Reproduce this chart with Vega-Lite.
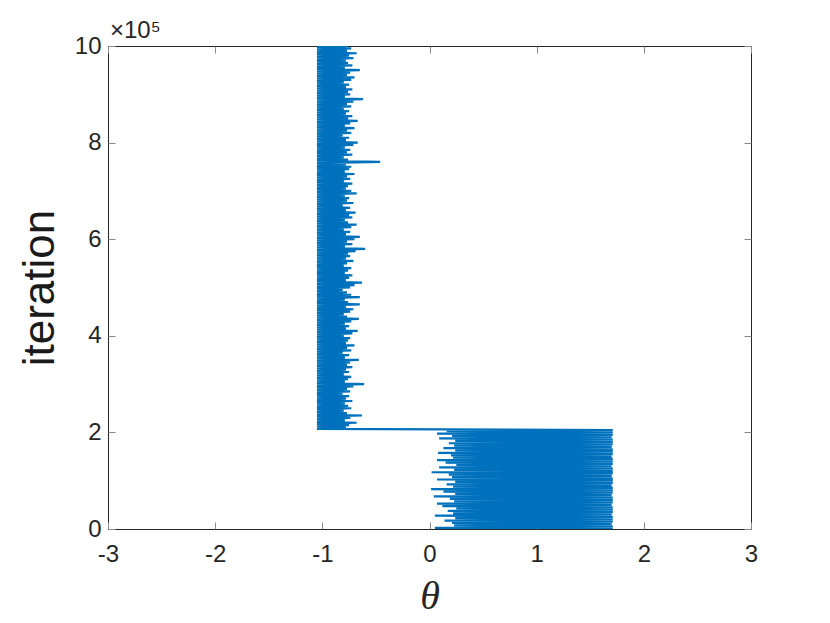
{
"$schema": "https://vega.github.io/schema/vega-lite/v6.json",
"width": 643, "height": 483,
"autosize": {"type": "none"},
"padding": {"left": 108, "top": 46, "right": 79, "bottom": 94},
"background": "white",
"config": {"view": {"stroke": "#262626", "strokeWidth": 1}},
"title": {"text": "×10⁵", "anchor": "start", "frame": "group", "offset": -9, "dx": 2, "fontSize": 24, "font": "Liberation Sans", "fontWeight": "normal", "color": "#262626"},
"datasets": {"trace": [
{"i":0,"t":1.71},{"i":2500,"t":0.05},{"i":5000,"t":1.71},{"i":7500,"t":0.23},{"i":10000,"t":1.7},{"i":12500,"t":0.21},{"i":15000,"t":1.71},{"i":17500,"t":0.14},{"i":20000,"t":1.71},{"i":22500,"t":0.24},{"i":25000,"t":1.71},{"i":27500,"t":0.05},{"i":30000,"t":1.7},{"i":32500,"t":0.22},{"i":35000,"t":1.71},{"i":37500,"t":0.17},{"i":40000,"t":1.71},{"i":42500,"t":0.25},{"i":45000,"t":1.71},{"i":47500,"t":0.12},{"i":50000,"t":1.7},{"i":52500,"t":0.07},{"i":55000,"t":1.71},{"i":57500,"t":0.23},{"i":60000,"t":1.71},{"i":62500,"t":0.19},{"i":65000,"t":1.71},{"i":67500,"t":0.04},{"i":70000,"t":1.7},{"i":72500,"t":0.24},{"i":75000,"t":1.71},{"i":77500,"t":0.13},{"i":80000,"t":1.71},{"i":82500,"t":0.015},{"i":85000,"t":1.71},{"i":87500,"t":0.22},{"i":90000,"t":1.7},{"i":92500,"t":0.16},{"i":95000,"t":1.71},{"i":97500,"t":0.24},{"i":100000,"t":1.71},{"i":102500,"t":0.07},{"i":105000,"t":1.71},{"i":107500,"t":0.21},{"i":110000,"t":1.7},{"i":112500,"t":0.18},{"i":115000,"t":1.71},{"i":117500,"t":0.02},{"i":120000,"t":1.71},{"i":122500,"t":0.23},{"i":125000,"t":1.71},{"i":127500,"t":0.09},{"i":130000,"t":1.7},{"i":132500,"t":0.25},{"i":135000,"t":1.71},{"i":137500,"t":0.15},{"i":140000,"t":1.71},{"i":142500,"t":0.07},{"i":145000,"t":1.71},{"i":147500,"t":0.22},{"i":150000,"t":1.7},{"i":152500,"t":0.2},{"i":155000,"t":1.71},{"i":157500,"t":0.08},{"i":160000,"t":1.71},{"i":162500,"t":0.24},{"i":165000,"t":1.71},{"i":167500,"t":0.13},{"i":170000,"t":1.7},{"i":172500,"t":0.23},{"i":175000,"t":1.71},{"i":177500,"t":0.18},{"i":180000,"t":1.71},{"i":182500,"t":0.24},{"i":185000,"t":1.71},{"i":187500,"t":0.09},{"i":190000,"t":1.7},{"i":192500,"t":0.21},{"i":195000,"t":1.71},{"i":197500,"t":0.07},{"i":200000,"t":1.71},{"i":202500,"t":0.16},{"i":205000,"t":1.71},
{"i":207500,"t":-1.05},{"i":210000,"t":-0.78},{"i":212500,"t":-1.05},{"i":215000,"t":-0.75},{"i":217500,"t":-1.05},{"i":220000,"t":-0.68},{"i":222500,"t":-1.05},{"i":225000,"t":-0.79},{"i":227500,"t":-1.05},{"i":230000,"t":-0.74},{"i":232500,"t":-1.05},{"i":235000,"t":-0.63},{"i":237500,"t":-1.05},{"i":240000,"t":-0.77},{"i":242500,"t":-1.05},{"i":245000,"t":-0.8},{"i":247500,"t":-1.05},{"i":250000,"t":-0.73},{"i":252500,"t":-1.05},{"i":255000,"t":-0.76},{"i":257500,"t":-1.05},{"i":260000,"t":-0.79},{"i":262500,"t":-1.05},{"i":265000,"t":-0.72},{"i":267500,"t":-1.05},{"i":270000,"t":-0.78},{"i":272500,"t":-1.05},{"i":275000,"t":-0.75},{"i":277500,"t":-1.05},{"i":280000,"t":-0.81},{"i":282500,"t":-1.05},{"i":285000,"t":-0.74},{"i":287500,"t":-1.05},{"i":290000,"t":-0.77},{"i":292500,"t":-1.05},{"i":295000,"t":-0.71},{"i":297500,"t":-1.05},{"i":300000,"t":-0.61},{"i":302500,"t":-1.05},{"i":305000,"t":-0.79},{"i":307500,"t":-1.05},{"i":310000,"t":-0.76},{"i":312500,"t":-1.05},{"i":315000,"t":-0.73},{"i":317500,"t":-1.05},{"i":320000,"t":-0.8},{"i":322500,"t":-1.05},{"i":325000,"t":-0.75},{"i":327500,"t":-1.05},{"i":330000,"t":-0.78},{"i":332500,"t":-1.05},{"i":335000,"t":-0.72},{"i":337500,"t":-1.05},{"i":340000,"t":-0.77},{"i":342500,"t":-1.05},{"i":345000,"t":-0.74},{"i":347500,"t":-1.05},{"i":350000,"t":-0.66},{"i":352500,"t":-1.05},{"i":355000,"t":-0.79},{"i":357500,"t":-1.05},{"i":360000,"t":-0.75},{"i":362500,"t":-1.05},{"i":365000,"t":-0.81},{"i":367500,"t":-1.05},{"i":370000,"t":-0.73},{"i":372500,"t":-1.05},{"i":375000,"t":-0.77},{"i":377500,"t":-1.05},{"i":380000,"t":-0.7},{"i":382500,"t":-1.05},{"i":385000,"t":-0.78},{"i":387500,"t":-1.05},{"i":390000,"t":-0.76},{"i":392500,"t":-1.05},{"i":395000,"t":-0.74},{"i":397500,"t":-1.05},{"i":400000,"t":-0.8},{"i":402500,"t":-1.05},{"i":405000,"t":-0.72},{"i":407500,"t":-1.05},{"i":410000,"t":-0.67},{"i":412500,"t":-1.05},{"i":415000,"t":-0.78},{"i":417500,"t":-1.05},{"i":420000,"t":-0.75},{"i":422500,"t":-1.05},{"i":425000,"t":-0.79},{"i":427500,"t":-1.05},{"i":430000,"t":-0.73},{"i":432500,"t":-1.05},{"i":435000,"t":-0.66},{"i":437500,"t":-1.05},{"i":440000,"t":-0.77},{"i":442500,"t":-1.05},{"i":445000,"t":-0.8},{"i":447500,"t":-1.05},{"i":450000,"t":-0.74},{"i":452500,"t":-1.05},{"i":455000,"t":-0.71},{"i":457500,"t":-1.05},{"i":460000,"t":-0.78},{"i":462500,"t":-1.05},{"i":465000,"t":-0.65},{"i":467500,"t":-1.05},{"i":470000,"t":-0.76},{"i":472500,"t":-1.05},{"i":475000,"t":-0.79},{"i":477500,"t":-1.05},{"i":480000,"t":-0.65},{"i":482500,"t":-1.05},{"i":485000,"t":-0.73},{"i":487500,"t":-1.05},{"i":490000,"t":-0.77},{"i":492500,"t":-1.05},{"i":495000,"t":-0.81},{"i":497500,"t":-1.05},{"i":500000,"t":-0.74},{"i":502500,"t":-1.05},{"i":505000,"t":-0.7},{"i":507500,"t":-1.05},{"i":510000,"t":-0.63},{"i":512500,"t":-1.05},{"i":515000,"t":-0.78},{"i":517500,"t":-1.05},{"i":520000,"t":-0.75},{"i":522500,"t":-1.05},{"i":525000,"t":-0.72},{"i":527500,"t":-1.05},{"i":530000,"t":-0.79},{"i":532500,"t":-1.05},{"i":535000,"t":-0.76},{"i":537500,"t":-1.05},{"i":540000,"t":-0.73},{"i":542500,"t":-1.05},{"i":545000,"t":-0.8},{"i":547500,"t":-1.05},{"i":550000,"t":-0.77},{"i":552500,"t":-1.05},{"i":555000,"t":-0.71},{"i":557500,"t":-1.05},{"i":560000,"t":-0.78},{"i":562500,"t":-1.05},{"i":565000,"t":-0.74},{"i":567500,"t":-1.05},{"i":570000,"t":-0.76},{"i":572500,"t":-1.05},{"i":575000,"t":-0.69},{"i":577500,"t":-1.05},{"i":580000,"t":-0.6},{"i":582500,"t":-1.05},{"i":585000,"t":-0.79},{"i":587500,"t":-1.05},{"i":590000,"t":-0.72},{"i":592500,"t":-1.05},{"i":595000,"t":-0.77},{"i":597500,"t":-1.05},{"i":600000,"t":-0.7},{"i":602500,"t":-1.05},{"i":605000,"t":-0.65},{"i":607500,"t":-1.05},{"i":610000,"t":-0.78},{"i":612500,"t":-1.05},{"i":615000,"t":-0.74},{"i":617500,"t":-1.05},{"i":620000,"t":-0.8},{"i":622500,"t":-1.05},{"i":625000,"t":-0.73},{"i":627500,"t":-1.05},{"i":630000,"t":-0.68},{"i":632500,"t":-1.05},{"i":635000,"t":-0.76},{"i":637500,"t":-1.05},{"i":640000,"t":-0.79},{"i":642500,"t":-1.05},{"i":645000,"t":-0.72},{"i":647500,"t":-1.05},{"i":650000,"t":-0.75},{"i":652500,"t":-1.05},{"i":655000,"t":-0.69},{"i":657500,"t":-1.05},{"i":660000,"t":-0.78},{"i":662500,"t":-1.05},{"i":665000,"t":-0.74},{"i":667500,"t":-1.05},{"i":670000,"t":-0.81},{"i":672500,"t":-1.05},{"i":675000,"t":-0.71},{"i":677500,"t":-1.05},{"i":680000,"t":-0.77},{"i":682500,"t":-1.05},{"i":685000,"t":-0.75},{"i":687500,"t":-1.05},{"i":690000,"t":-0.79},{"i":692500,"t":-1.05},{"i":695000,"t":-0.68},{"i":697500,"t":-1.05},{"i":700000,"t":-0.73},{"i":702500,"t":-1.05},{"i":705000,"t":-0.78},{"i":707500,"t":-1.05},{"i":710000,"t":-0.76},{"i":712500,"t":-1.05},{"i":715000,"t":-0.72},{"i":717500,"t":-1.05},{"i":720000,"t":-0.8},{"i":722500,"t":-1.05},{"i":725000,"t":-0.74},{"i":727500,"t":-1.05},{"i":730000,"t":-0.77},{"i":732500,"t":-1.05},{"i":735000,"t":-0.7},{"i":737500,"t":-1.05},{"i":740000,"t":-0.79},{"i":742500,"t":-1.05},{"i":745000,"t":-0.75},{"i":747500,"t":-1.05},{"i":750000,"t":-0.73},{"i":752500,"t":-1.05},{"i":755000,"t":-0.78},{"i":757500,"t":-1.05},{"i":760000,"t":-0.46},{"i":762500,"t":-1.05},{"i":765000,"t":-0.76},{"i":767500,"t":-1.05},{"i":770000,"t":-0.8},{"i":772500,"t":-1.05},{"i":775000,"t":-0.72},{"i":777500,"t":-1.05},{"i":780000,"t":-0.77},{"i":782500,"t":-1.05},{"i":785000,"t":-0.74},{"i":787500,"t":-1.05},{"i":790000,"t":-0.79},{"i":792500,"t":-1.05},{"i":795000,"t":-0.71},{"i":797500,"t":-1.05},{"i":800000,"t":-0.67},{"i":802500,"t":-1.05},{"i":805000,"t":-0.78},{"i":807500,"t":-1.05},{"i":810000,"t":-0.75},{"i":812500,"t":-1.05},{"i":815000,"t":-0.81},{"i":817500,"t":-1.05},{"i":820000,"t":-0.73},{"i":822500,"t":-1.05},{"i":825000,"t":-0.77},{"i":827500,"t":-1.05},{"i":830000,"t":-0.7},{"i":832500,"t":-1.05},{"i":835000,"t":-0.79},{"i":837500,"t":-1.05},{"i":840000,"t":-0.74},{"i":842500,"t":-1.05},{"i":845000,"t":-0.67},{"i":847500,"t":-1.05},{"i":850000,"t":-0.76},{"i":852500,"t":-1.05},{"i":855000,"t":-0.72},{"i":857500,"t":-1.05},{"i":860000,"t":-0.78},{"i":862500,"t":-1.05},{"i":865000,"t":-0.75},{"i":867500,"t":-1.05},{"i":870000,"t":-0.8},{"i":872500,"t":-1.05},{"i":875000,"t":-0.73},{"i":877500,"t":-1.05},{"i":880000,"t":-0.77},{"i":882500,"t":-1.05},{"i":885000,"t":-0.71},{"i":887500,"t":-1.05},{"i":890000,"t":-0.62},{"i":892500,"t":-1.05},{"i":895000,"t":-0.79},{"i":897500,"t":-1.05},{"i":900000,"t":-0.74},{"i":902500,"t":-1.05},{"i":905000,"t":-0.76},{"i":907500,"t":-1.05},{"i":910000,"t":-0.72},{"i":912500,"t":-1.05},{"i":915000,"t":-0.78},{"i":917500,"t":-1.05},{"i":920000,"t":-0.75},{"i":922500,"t":-1.05},{"i":925000,"t":-0.8},{"i":927500,"t":-1.05},{"i":930000,"t":-0.73},{"i":932500,"t":-1.05},{"i":935000,"t":-0.7},{"i":937500,"t":-1.05},{"i":940000,"t":-0.77},{"i":942500,"t":-1.05},{"i":945000,"t":-0.74},{"i":947500,"t":-1.05},{"i":950000,"t":-0.65},{"i":952500,"t":-1.05},{"i":955000,"t":-0.79},{"i":957500,"t":-1.05},{"i":960000,"t":-0.72},{"i":962500,"t":-1.05},{"i":965000,"t":-0.76},{"i":967500,"t":-1.05},{"i":970000,"t":-0.78},{"i":972500,"t":-1.05},{"i":975000,"t":-0.71},{"i":977500,"t":-1.05},{"i":980000,"t":-0.75},{"i":982500,"t":-1.05},{"i":985000,"t":-0.68},{"i":987500,"t":-1.05},{"i":990000,"t":-0.77},{"i":992500,"t":-1.05},{"i":995000,"t":-0.73},{"i":997500,"t":-1.05},{"i":1000000,"t":-0.76}
]},
"data": {"name": "trace"},
"resolve": {"axis": {"x": "independent", "y": "independent"}},
"layer": [
{
"mark": {"type": "line", "color": "#0072BD", "strokeWidth": 2.2, "strokeJoin": "bevel", "clip": true},
"encoding": {
"x": {"field": "t", "type": "quantitative", "scale": {"domain": [-3, 3], "nice": false},
"axis": {"orient": "bottom", "values": [-3,-2,-1,0,1,2,3], "labelExpr": "'' + datum.value", "labelFlush": false, "domain": false, "grid": false, "tickSize": -7, "tickColor": "#8a8a8a", "tickWidth": 1, "labelPadding": 20, "labelFont": "Liberation Sans", "labelFontSize": 24, "labelColor": "#262626", "title": "θ", "titleFont": "Liberation Serif", "titleFontStyle": "italic", "titleFontWeight": "normal", "titleFontSize": 40, "titleColor": "#262626", "titlePadding": 10}},
"y": {"field": "i", "type": "quantitative", "scale": {"domain": [0, 1000000], "nice": false},
"axis": {"orient": "left", "values": [0,200000,400000,600000,800000,1000000], "labelExpr": "'' + datum.value / 100000", "labelFlush": false, "domain": false, "grid": false, "tickSize": -7, "tickColor": "#8a8a8a", "tickWidth": 1, "labelPadding": 14, "labelFont": "Liberation Sans", "labelFontSize": 24, "labelColor": "#262626", "title": "iteration", "titleFont": "Liberation Sans", "titleFontWeight": "normal", "titleFontSize": 44, "titleColor": "#1a1a1a", "titlePadding": 12}},
"order": {"field": "i", "type": "quantitative"}
}
},
{
"mark": {"type": "line", "opacity": 0},
"encoding": {
"x": {"field": "t", "type": "quantitative", "scale": {"domain": [-3, 3], "nice": false},
"axis": {"orient": "top", "values": [-3,-2,-1,0,1,2,3], "labels": false, "domain": false, "grid": false, "tickSize": -7, "tickColor": "#8a8a8a", "tickWidth": 1, "title": null}},
"y": {"field": "i", "type": "quantitative", "scale": {"domain": [0, 1000000], "nice": false},
"axis": {"orient": "right", "values": [0,200000,400000,600000,800000,1000000], "labels": false, "domain": false, "grid": false, "tickSize": -7, "tickColor": "#8a8a8a", "tickWidth": 1, "title": null}},
"order": {"field": "i", "type": "quantitative"}
}
}
]
}
